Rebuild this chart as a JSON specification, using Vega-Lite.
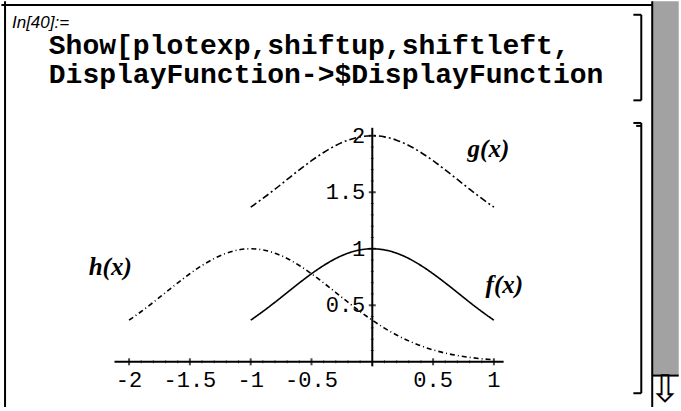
{
  "$schema": "https://vega.github.io/schema/vega-lite/v6.json",
  "width": 681,
  "height": 411,
  "padding": 0,
  "autosize": {"type": "fit", "contains": "padding"},
  "background": "white",
  "config": {"view": {"stroke": null}},
  "datasets": {
    "curves": [
      {"x": -1.0, "y": 0.368, "curve": "f"}, {"x": -0.9, "y": 0.445, "curve": "f"}, {"x": -0.8, "y": 0.527, "curve": "f"},
      {"x": -0.7, "y": 0.613, "curve": "f"}, {"x": -0.6, "y": 0.698, "curve": "f"}, {"x": -0.5, "y": 0.779, "curve": "f"},
      {"x": -0.4, "y": 0.852, "curve": "f"}, {"x": -0.3, "y": 0.914, "curve": "f"}, {"x": -0.2, "y": 0.961, "curve": "f"},
      {"x": -0.1, "y": 0.990, "curve": "f"}, {"x": 0.0, "y": 1.000, "curve": "f"}, {"x": 0.1, "y": 0.990, "curve": "f"},
      {"x": 0.2, "y": 0.961, "curve": "f"}, {"x": 0.3, "y": 0.914, "curve": "f"}, {"x": 0.4, "y": 0.852, "curve": "f"},
      {"x": 0.5, "y": 0.779, "curve": "f"}, {"x": 0.6, "y": 0.698, "curve": "f"}, {"x": 0.7, "y": 0.613, "curve": "f"},
      {"x": 0.8, "y": 0.527, "curve": "f"}, {"x": 0.9, "y": 0.445, "curve": "f"}, {"x": 1.0, "y": 0.368, "curve": "f"},

      {"x": -1.0, "y": 1.368, "curve": "g"}, {"x": -0.9, "y": 1.445, "curve": "g"}, {"x": -0.8, "y": 1.527, "curve": "g"},
      {"x": -0.7, "y": 1.613, "curve": "g"}, {"x": -0.6, "y": 1.698, "curve": "g"}, {"x": -0.5, "y": 1.779, "curve": "g"},
      {"x": -0.4, "y": 1.852, "curve": "g"}, {"x": -0.3, "y": 1.914, "curve": "g"}, {"x": -0.2, "y": 1.961, "curve": "g"},
      {"x": -0.1, "y": 1.990, "curve": "g"}, {"x": 0.0, "y": 2.000, "curve": "g"}, {"x": 0.1, "y": 1.990, "curve": "g"},
      {"x": 0.2, "y": 1.961, "curve": "g"}, {"x": 0.3, "y": 1.914, "curve": "g"}, {"x": 0.4, "y": 1.852, "curve": "g"},
      {"x": 0.5, "y": 1.779, "curve": "g"}, {"x": 0.6, "y": 1.698, "curve": "g"}, {"x": 0.7, "y": 1.613, "curve": "g"},
      {"x": 0.8, "y": 1.527, "curve": "g"}, {"x": 0.9, "y": 1.445, "curve": "g"}, {"x": 1.0, "y": 1.368, "curve": "g"},

      {"x": -2.0, "y": 0.368, "curve": "h"}, {"x": -1.9, "y": 0.445, "curve": "h"}, {"x": -1.8, "y": 0.527, "curve": "h"},
      {"x": -1.7, "y": 0.613, "curve": "h"}, {"x": -1.6, "y": 0.698, "curve": "h"}, {"x": -1.5, "y": 0.779, "curve": "h"},
      {"x": -1.4, "y": 0.852, "curve": "h"}, {"x": -1.3, "y": 0.914, "curve": "h"}, {"x": -1.2, "y": 0.961, "curve": "h"},
      {"x": -1.1, "y": 0.990, "curve": "h"}, {"x": -1.0, "y": 1.000, "curve": "h"}, {"x": -0.9, "y": 0.990, "curve": "h"},
      {"x": -0.8, "y": 0.961, "curve": "h"}, {"x": -0.7, "y": 0.914, "curve": "h"}, {"x": -0.6, "y": 0.852, "curve": "h"},
      {"x": -0.5, "y": 0.779, "curve": "h"}, {"x": -0.4, "y": 0.698, "curve": "h"}, {"x": -0.3, "y": 0.613, "curve": "h"},
      {"x": -0.2, "y": 0.527, "curve": "h"}, {"x": -0.1, "y": 0.445, "curve": "h"}, {"x": 0.0, "y": 0.368, "curve": "h"},
      {"x": 0.1, "y": 0.298, "curve": "h"}, {"x": 0.2, "y": 0.237, "curve": "h"}, {"x": 0.3, "y": 0.185, "curve": "h"},
      {"x": 0.4, "y": 0.141, "curve": "h"}, {"x": 0.5, "y": 0.105, "curve": "h"}, {"x": 0.6, "y": 0.077, "curve": "h"},
      {"x": 0.7, "y": 0.056, "curve": "h"}, {"x": 0.8, "y": 0.039, "curve": "h"}, {"x": 0.9, "y": 0.027, "curve": "h"},
      {"x": 1.0, "y": 0.018, "curve": "h"}
    ],
    "xMajor": [
      {"v": -2, "label": "-2"}, {"v": -1.5, "label": "-1.5"}, {"v": -1, "label": "-1"},
      {"v": -0.5, "label": "-0.5"}, {"v": 0.5, "label": "0.5"}, {"v": 1, "label": "1"}
    ],
    "xMinor": [
      {"v": -1.9}, {"v": -1.8}, {"v": -1.7}, {"v": -1.6}, {"v": -1.4}, {"v": -1.3}, {"v": -1.2}, {"v": -1.1},
      {"v": -0.9}, {"v": -0.8}, {"v": -0.7}, {"v": -0.6}, {"v": -0.4}, {"v": -0.3}, {"v": -0.2}, {"v": -0.1},
      {"v": 0.1}, {"v": 0.2}, {"v": 0.3}, {"v": 0.4}, {"v": 0.6}, {"v": 0.7}, {"v": 0.8}, {"v": 0.9}
    ],
    "yMajor": [
      {"v": 0.5, "label": "0.5"}, {"v": 1, "label": "1"}, {"v": 1.5, "label": "1.5"}, {"v": 2, "label": "2"}
    ],
    "yMinor": [
      {"v": 0.1}, {"v": 0.2}, {"v": 0.3}, {"v": 0.4}, {"v": 0.6}, {"v": 0.7}, {"v": 0.8}, {"v": 0.9},
      {"v": 1.1}, {"v": 1.2}, {"v": 1.3}, {"v": 1.4}, {"v": 1.6}, {"v": 1.7}, {"v": 1.8}, {"v": 1.9}
    ],
    "axisLines": [
      {"x1": -2.12, "x2": 1.08, "y1": 0, "y2": 0},
      {"x1": 0, "x2": 0, "y1": -0.04, "y2": 2.07}
    ],
    "frame": [
      {"x1": -3.05, "x2": 2.302, "y1": 3.157, "y2": 3.157},
      {"x1": -3.02, "x2": -3.02, "y1": -0.4, "y2": 3.19},
      {"x1": 2.302, "x2": 2.302, "y1": -0.4, "y2": 3.19},
      {"x1": 2.302, "x2": 2.52, "y1": -0.122, "y2": -0.122},
      {"x1": 2.212, "x2": 2.212, "y1": 3.07, "y2": 2.313},
      {"x1": 2.147, "x2": 2.212, "y1": 3.07, "y2": 3.07},
      {"x1": 2.147, "x2": 2.212, "y1": 2.313, "y2": 2.313},
      {"x1": 2.212, "x2": 2.212, "y1": 2.113, "y2": -0.278},
      {"x1": 2.147, "x2": 2.212, "y1": 2.113, "y2": 2.113},
      {"x1": 2.17, "x2": 2.212, "y1": 2.087, "y2": 2.087},
      {"x1": 2.147, "x2": 2.212, "y1": -0.278, "y2": -0.278}
    ],
    "curveLabels": [
      {"x": 0.955, "y": 1.88, "text": "g(x)"},
      {"x": -2.155, "y": 0.835, "text": "h(x)"},
      {"x": 1.086, "y": 0.678, "text": "f(x)"}
    ],
    "code": [
      {"x": -2.66, "y": 2.79, "text": "Show[plotexp,shiftup,shiftleft,"},
      {"x": -2.66, "y": 2.54, "text": "DisplayFunction->$DisplayFunction"}
    ]
  },
  "encoding": {
    "x": {"type": "quantitative", "scale": {"domain": [-3.045, 2.514], "nice": false, "zero": false}, "axis": null},
    "y": {"type": "quantitative", "scale": {"domain": [-0.391, 3.183], "nice": false, "zero": false}, "axis": null}
  },
  "layer": [
    {
      "data": {"values": [{"x1": 2.302, "x2": 2.52, "y1": -0.122, "y2": 3.19}]},
      "mark": {"type": "rect", "fill": "#a2a2a2"},
      "encoding": {"x": {"field": "x1", "type": "quantitative"}, "x2": {"field": "x2"}, "y": {"field": "y1", "type": "quantitative"}, "y2": {"field": "y2"}}
    },
    {
      "data": {"name": "frame"},
      "mark": {"type": "rule", "color": "black", "strokeWidth": 2},
      "encoding": {"x": {"field": "x1", "type": "quantitative"}, "x2": {"field": "x2"}, "y": {"field": "y1", "type": "quantitative"}, "y2": {"field": "y2"}}
    },
    {
      "data": {"values": [{"x": 2.408, "y": -0.262, "glyph": "⇩"}]},
      "mark": {"type": "text", "font": "DejaVu Sans", "fontSize": 38, "color": "black", "baseline": "middle", "align": "center"},
      "encoding": {"x": {"field": "x", "type": "quantitative"}, "y": {"field": "y", "type": "quantitative"}, "text": {"field": "glyph"}}
    },
    {
      "data": {"name": "axisLines"},
      "mark": {"type": "rule", "color": "black", "strokeWidth": 2},
      "encoding": {"x": {"field": "x1", "type": "quantitative"}, "x2": {"field": "x2"}, "y": {"field": "y1", "type": "quantitative"}, "y2": {"field": "y2"}}
    },
    {
      "data": {"name": "xMajor"},
      "mark": {"type": "tick", "orient": "vertical", "color": "black", "size": 7, "thickness": 2},
      "encoding": {"x": {"field": "v", "type": "quantitative"}, "y": {"datum": 0, "type": "quantitative"}}
    },
    {
      "data": {"name": "xMinor"},
      "mark": {"type": "tick", "orient": "vertical", "color": "black", "size": 3, "thickness": 1},
      "encoding": {"x": {"field": "v", "type": "quantitative"}, "y": {"datum": 0, "type": "quantitative"}}
    },
    {
      "data": {"name": "yMajor"},
      "mark": {"type": "tick", "orient": "horizontal", "color": "black", "size": 7, "thickness": 2},
      "encoding": {"y": {"field": "v", "type": "quantitative"}, "x": {"datum": 0, "type": "quantitative"}}
    },
    {
      "data": {"name": "yMinor"},
      "mark": {"type": "tick", "orient": "horizontal", "color": "black", "size": 3, "thickness": 1},
      "encoding": {"y": {"field": "v", "type": "quantitative"}, "x": {"datum": 0, "type": "quantitative"}}
    },
    {
      "data": {"name": "curves"},
      "mark": {"type": "line", "color": "black", "strokeWidth": 1.6, "interpolate": "monotone"},
      "encoding": {
        "x": {"field": "x", "type": "quantitative"},
        "y": {"field": "y", "type": "quantitative"},
        "detail": {"field": "curve"},
        "strokeDash": {"field": "curve", "type": "nominal", "scale": {"domain": ["f", "g", "h"], "range": [[1, 0], [7, 3, 2, 3], [5, 3, 1, 3]]}, "legend": null}
      }
    },
    {
      "data": {"name": "xMajor"},
      "mark": {"type": "text", "font": "Liberation Mono", "fontSize": 22, "color": "black", "align": "center", "baseline": "middle", "dy": 18},
      "encoding": {"x": {"field": "v", "type": "quantitative"}, "y": {"datum": 0, "type": "quantitative"}, "text": {"field": "label"}}
    },
    {
      "data": {"name": "yMajor"},
      "mark": {"type": "text", "font": "Liberation Mono", "fontSize": 22, "color": "black", "align": "right", "baseline": "middle", "dx": -7},
      "encoding": {"y": {"field": "v", "type": "quantitative"}, "x": {"datum": 0, "type": "quantitative"}, "text": {"field": "label"}}
    },
    {
      "data": {"name": "curveLabels"},
      "mark": {"type": "text", "font": "Liberation Serif", "fontSize": 25, "fontWeight": "bold", "fontStyle": "italic", "color": "black", "align": "center", "baseline": "middle"},
      "encoding": {"x": {"field": "x", "type": "quantitative"}, "y": {"field": "y", "type": "quantitative"}, "text": {"field": "text"}}
    },
    {
      "data": {"values": [{"x": -2.963, "y": 3.0, "text": "In[40]:="}]},
      "mark": {"type": "text", "font": "Liberation Sans", "fontSize": 17, "fontStyle": "italic", "color": "black", "align": "left", "baseline": "middle"},
      "encoding": {"x": {"field": "x", "type": "quantitative"}, "y": {"field": "y", "type": "quantitative"}, "text": {"field": "text"}}
    },
    {
      "data": {"name": "code"},
      "mark": {"type": "text", "font": "Liberation Mono", "fontSize": 28, "fontWeight": "bold", "color": "black", "align": "left", "baseline": "middle"},
      "encoding": {"x": {"field": "x", "type": "quantitative"}, "y": {"field": "y", "type": "quantitative"}, "text": {"field": "text"}}
    }
  ]
}
